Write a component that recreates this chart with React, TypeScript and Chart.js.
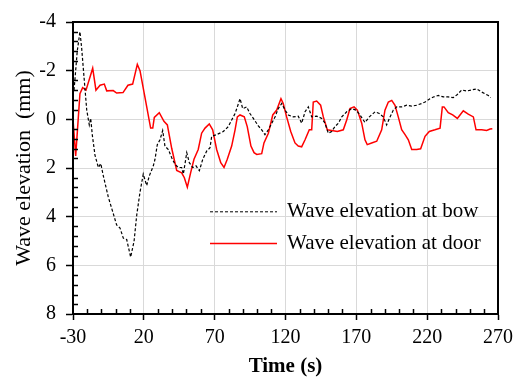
import React, { useEffect, useRef } from "react";
import { Chart, registerables } from "chart.js";

Chart.register(...registerables);

const xTicks = [-30, 20, 70, 120, 170, 220, 270];
const yTicks = [-4, -2, 0, 2, 4, 6, 8];
const seriesLabels = ["Wave elevation at bow", "Wave elevation at door"];

const bowTime = [-29.3, -28.6, -27.0, -25.1, -23.9, -22.2, -20.3, -18.5, -17.5, -16.4, -14.5, -12.1, -10.4, -8.6, -5.1, -1.6, 0.8, 3.2, 5.5, 7.9, 10.7, 13.1, 15.0, 17.3, 19.6, 22.0, 23.9, 26.7, 27.9, 29.5, 31.4, 33.3, 34.9, 37.3, 39.7, 42.0, 44.3, 46.7, 47.9, 50.3, 52.1, 54.5, 56.8, 59.2, 61.6, 64.4, 66.7, 67.9, 71.4, 76.1, 79.6, 82.0, 84.4, 86.0, 87.9, 89.8, 92.6, 94.9, 97.3, 100.8, 103.2, 105.5, 107.9, 110.3, 112.6, 114.9, 117.3, 119.7, 122.0, 125.5, 129.0, 131.4, 133.8, 136.1, 138.5, 142.0, 145.6, 147.9, 150.2, 152.6, 154.9, 157.3, 159.7, 163.2, 166.7, 169.8, 172.6, 176.1, 179.2, 183.2, 186.2, 189.0, 191.4, 193.8, 196.1, 198.5, 202.0, 205.6, 209.1, 212.6, 216.1, 218.5, 222.0, 224.4, 227.9, 231.4, 234.9, 238.4, 241.3, 244.4, 247.9, 251.4, 255.0, 258.5, 260.8, 263.2, 264.8];
const bowElev = [-1.2, -1.66, -2.8, -3.6, -2.94, -1.72, -0.38, 0.23, -0.04, 0.63, 1.47, 1.98, 1.82, 2.32, 3.19, 3.87, 4.34, 4.47, 4.88, 4.94, 5.66, 5.01, 3.93, 2.99, 2.25, 2.72, 2.32, 1.91, 1.64, 1.04, 0.84, 0.46, 1.1, 1.24, 1.58, 1.85, 1.98, 1.98, 2.25, 1.37, 1.78, 1.98, 1.91, 2.11, 1.64, 1.3, 1.17, 0.7, 0.63, 0.5, 0.3, 0.03, -0.24, -0.51, -0.85, -0.44, -0.51, -0.24, -0.04, 0.27, 0.43, 0.63, 0.43, 0.16, -0.1, -0.44, -0.65, -0.38, -0.18, -0.1, -0.13, 0.16, -0.31, -0.51, -0.1, -0.13, -0.04, 0.16, 0.57, 0.5, 0.3, 0.16, -0.1, -0.31, -0.44, -0.38, -0.18, 0.13, -0.1, -0.31, -0.24, -0.1, 0.23, -0.1, -0.38, -0.51, -0.51, -0.58, -0.54, -0.58, -0.65, -0.71, -0.85, -0.92, -0.98, -0.92, -0.92, -0.89, -1.02, -1.21, -1.16, -1.21, -1.25, -1.12, -1.05, -0.98, -0.89];

const doorTime = [-30.0, -28.1, -25.1, -23.2, -20.8, -16.1, -13.8, -10.9, -7.9, -6.2, -1.6, 0.8, 5.3, 8.8, 12.1, 15.4, 17.3, 20.8, 24.8, 26.3, 27.4, 30.9, 34.2, 36.6, 39.7, 43.2, 46.7, 48.6, 50.7, 53.1, 55.4, 58.4, 60.8, 63.2, 66.2, 68.6, 71.4, 74.3, 76.6, 78.9, 82.0, 84.4, 86.0, 87.9, 90.9, 93.0, 95.6, 97.8, 99.7, 103.2, 104.8, 107.9, 111.0, 113.8, 116.8, 118.4, 120.8, 123.7, 126.7, 129.0, 131.4, 133.8, 136.8, 138.5, 139.6, 142.0, 144.8, 146.7, 149.5, 152.6, 156.6, 160.8, 163.2, 165.5, 168.4, 170.7, 173.8, 176.1, 177.7, 180.8, 184.4, 187.9, 190.2, 192.6, 195.0, 197.3, 199.6, 202.0, 204.4, 206.7, 209.1, 212.6, 215.4, 218.5, 221.5, 225.5, 229.1, 230.7, 231.9, 234.9, 238.0, 241.3, 243.2, 245.5, 249.0, 252.6, 254.5, 258.5, 262.0, 264.4, 266.0];
const doorElev = [0.0, 1.5, -1.05, -1.3, -1.2, -2.1, -1.2, -1.4, -1.45, -1.17, -1.18, -1.08, -1.1, -1.4, -1.45, -2.26, -2.0, -0.9, 0.36, 0.36, -0.08, -0.27, 0.08, 0.23, 1.2, 2.1, 2.2, 2.4, 2.79, 2.18, 1.64, 1.24, 0.57, 0.36, 0.19, 0.43, 1.24, 1.78, 1.98, 1.64, 1.1, 0.43, -0.1, -0.18, -0.1, 0.3, 1.1, 1.37, 1.44, 1.41, 0.97, 0.57, -0.18, -0.38, -0.85, -0.65, -0.1, 0.5, 0.97, 1.1, 1.13, 0.84, 0.43, 0.43, -0.71, -0.75, -0.58, -0.1, 0.43, 0.46, 0.5, 0.43, 0.03, -0.44, -0.51, -0.38, 0.16, 0.84, 1.04, 0.97, 0.9, 0.43, -0.38, -0.71, -0.78, -0.58, -0.1, 0.43, 0.63, 0.84, 1.24, 1.24, 1.21, 0.7, 0.5, 0.43, 0.36, -0.51, -0.51, -0.27, -0.18, -0.04, -0.18, -0.35, -0.21, -0.1, 0.43, 0.43, 0.46, 0.4, 0.39];

const FONT = "'Liberation Serif', 'Times New Roman', serif";

const decorPlugin = {
  id: "decor",
  afterDraw(chart: any) {
    const { ctx, chartArea, scales } = chart;
    const xs = scales.x;
    const ys = scales.y;
    ctx.save();
    ctx.strokeStyle = "#000";
    ctx.lineWidth = 1.5;
    for (let v = -30; v <= 270; v += 10) {
      if (xTicks.includes(v)) continue;
      const px = Math.round(xs.getPixelForValue(v)) + 0.5;
      ctx.beginPath();
      ctx.moveTo(px, chartArea.bottom);
      ctx.lineTo(px, chartArea.bottom - 5);
      ctx.stroke();
    }
    for (let i = 0; i <= 30; i++) {
      const v = -4 + i * 0.4;
      if (i % 5 === 0) continue;
      const py = Math.round(ys.getPixelForValue(v)) + 0.5;
      ctx.beginPath();
      ctx.moveTo(chartArea.left, py);
      ctx.lineTo(chartArea.left + 5, py);
      ctx.stroke();
    }
    ctx.lineWidth = 2;
    ctx.strokeRect(chartArea.left, chartArea.top, chartArea.right - chartArea.left, chartArea.bottom - chartArea.top);
    const items = [
      { color: "#000", dash: [3, 2], width: 1, y: ys.getPixelForValue(3.8) },
      { color: "#ff0000", dash: [], width: 1.5, y: ys.getPixelForValue(5.1) },
    ];
    ctx.font = `21px ${FONT}`;
    ctx.textBaseline = "middle";
    ctx.fillStyle = "#000";
    items.forEach((it, i) => {
      ctx.beginPath();
      ctx.setLineDash(it.dash);
      ctx.strokeStyle = it.color;
      ctx.lineWidth = it.width;
      ctx.moveTo(210, it.y);
      ctx.lineTo(277, it.y);
      ctx.stroke();
      ctx.setLineDash([]);
      ctx.fillText(seriesLabels[i], 287, it.y);
    });
    ctx.restore();
  },
};

export default function App() {
  const ref = useRef<HTMLCanvasElement>(null);
  useEffect(() => {
    if (!ref.current) return;
    const chart = new Chart(ref.current, {
      type: "line",
      data: {
        datasets: [
          {
            label: seriesLabels[0],
            data: bowTime.map((t, i) => ({ x: t, y: bowElev[i] })),
            borderColor: "#000",
            borderWidth: 1.2,
            borderDash: [3, 2],
            pointRadius: 0,
            tension: 0,
          },
          {
            label: seriesLabels[1],
            data: doorTime.map((t, i) => ({ x: t, y: doorElev[i] })),
            borderColor: "#ff0000",
            borderWidth: 1.5,
            pointRadius: 0,
            tension: 0,
          },
        ],
      },
      options: {
        responsive: false,
        animation: false,
        layout: { padding: { left: 0, top: 17, right: 30, bottom: 0 } },
        plugins: { legend: { display: false }, tooltip: { enabled: false } },
        scales: {
          x: {
            type: "linear",
            min: -30,
            max: 270,
            afterBuildTicks: (s: any) => {
              s.ticks = xTicks.map((v) => ({ value: v }));
            },
            afterFit: (s: any) => {
              s.height = 65;
            },
            grid: { color: "#d9d9d9", lineWidth: 1, tickColor: "#000", tickLength: 6, tickWidth: 1.5 },
            border: { display: true, color: "#000", width: 2 },
            ticks: { color: "#000", font: { family: FONT, size: 20 }, padding: 6, maxRotation: 0, autoSkip: false },
            title: { display: true, text: "Time (s)", color: "#000", font: { family: FONT, size: 21, weight: "bold" }, padding: { top: 0, bottom: 0 } },
          },
          y: {
            type: "linear",
            reverse: true,
            min: -4,
            max: 8,
            afterBuildTicks: (s: any) => {
              s.ticks = yTicks.map((v) => ({ value: v }));
            },
            afterFit: (s: any) => {
              s.width = 73;
            },
            grid: { color: "#d9d9d9", lineWidth: 1, tickColor: "#000", tickLength: 7, tickWidth: 1.5 },
            border: { display: true, color: "#000", width: 2 },
            ticks: { color: "#000", font: { family: FONT, size: 20 }, padding: 10, autoSkip: false },
            title: { display: true, text: "Wave elevation  (mm)", color: "#000", font: { family: FONT, size: 22 }, padding: { top: 11, bottom: 0 } },
          },
        },
      },
      plugins: [decorPlugin],
    });
    return () => chart.destroy();
  }, []);
  return (
    <div style={{ position: "absolute", left: 0, top: 0, width: 528, height: 379, background: "#fff" }}>
      <canvas ref={ref} width={528} height={379} />
    </div>
  );
}
